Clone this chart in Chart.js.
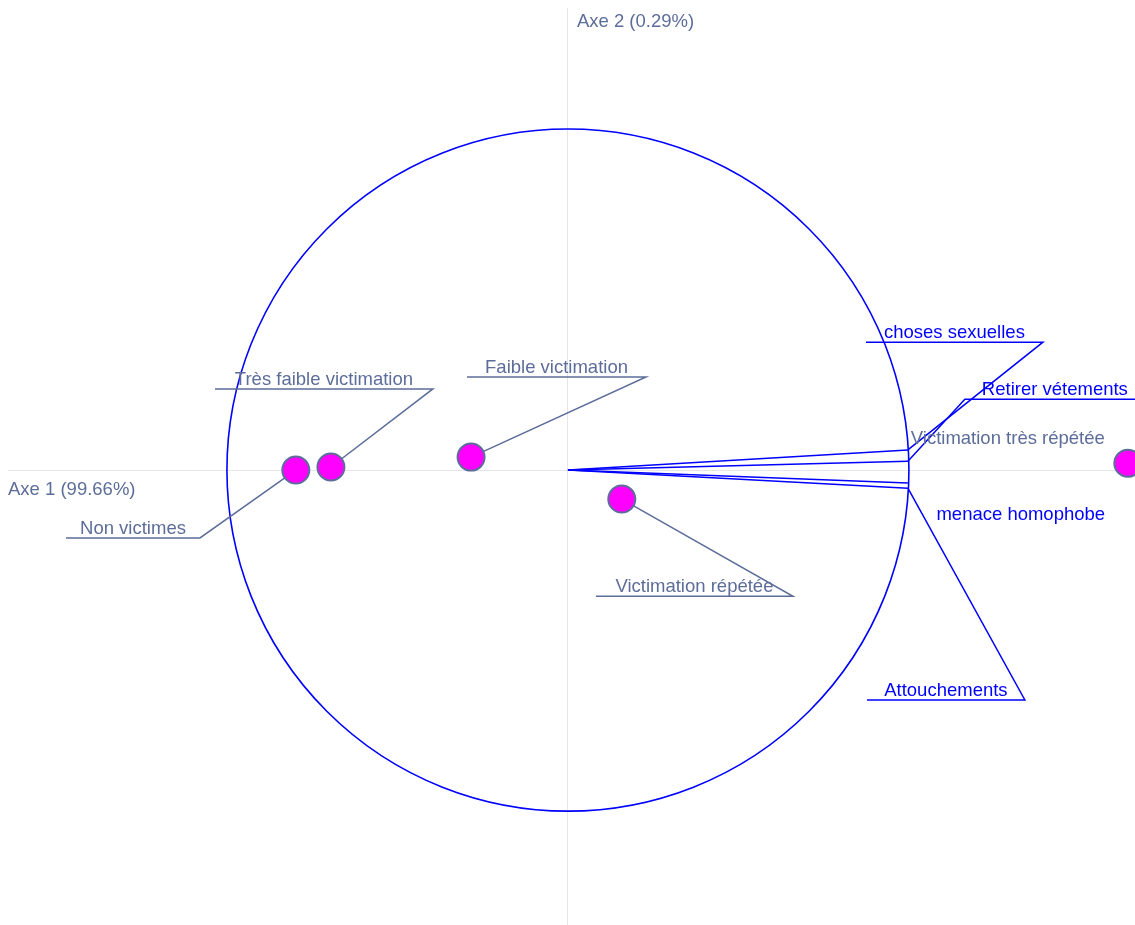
<!DOCTYPE html>
<html>
<head>
<meta charset="utf-8">
<script src="https://cdn.jsdelivr.net/npm/chart.js@4.4.1/dist/chart.umd.min.js"></script>
<style>
  html, body { margin: 0; padding: 0; background: #fff; }
  #chartContainer { width: 1135px; height: 925px; }
</style>
</head>
<body>
<div id="chartContainer"><canvas id="ca-chart" width="1135" height="925"></canvas></div>
<script>
// individuals (rows) - coordinates on axes 1 and 2
var rowNames = ['Non victimes', 'Très faible victimation', 'Faible victimation', 'Victimation répétée', 'Victimation très répétée'];
var rowX = [-0.798, -0.695, -0.284, 0.158, 1.642];
var rowY = [0.000, 0.009, 0.038, -0.085, 0.020];

// variables (columns) - arrow tips
var colNames = ['choses sexuelles', 'Retirer vétements', 'menace homophobe', 'Attouchements'];
var colX = [0.997, 0.997, 0.997, 0.997];
var colY = [0.059, 0.026, -0.038, -0.053];

// label placement (data units): leader end, underline other end, text position when no leader
var rowLabelEnd = [[-1.079, -0.199], [-0.396, 0.238], [0.229, 0.273], [0.660, -0.370], null];
var rowUnderlineTo = [-1.472, -1.035, -0.296, 0.082, null];
var rowTextAt = [null, null, null, null, [1.290, 0.091]];

var colLabelEnd = [[1.393, 0.375], [1.164, 0.208], null, [1.340, -0.674]];
var colUnderlineTo = [0.874, 1.692, null, 0.877];
var colTextAt = [null, null, [1.328, -0.132], null];

var axisTitleX = 'Axe 1 (99.66%)';
var axisTitleY = 'Axe 2 (0.29%)';
var circleRadius = 1;

var grey = '#5d6d9a';
var blue = '#0000ff';
var labelFont = '18.5px "Liberation Sans", Arial, sans-serif';

var datasets = [];

// leader lines for rows
rowNames.forEach(function(name, i) {
    if (!rowLabelEnd[i]) return;
    datasets.push({
        data: [{x: rowX[i], y: rowY[i]}, {x: rowLabelEnd[i][0], y: rowLabelEnd[i][1]}, {x: rowUnderlineTo[i], y: rowLabelEnd[i][1]}],
        showLine: true, pointRadius: 0, borderColor: grey, borderWidth: 1.5, clip: false, order: 3
    });
});

// arrows for columns
colNames.forEach(function(name, i) {
    datasets.push({
        data: [{x: 0, y: 0}, {x: colX[i], y: colY[i]}],
        showLine: true, pointRadius: 0, borderColor: blue, borderWidth: 1.5, clip: false, order: 2
    });
    if (colLabelEnd[i]) {
        datasets.push({
            data: [{x: colX[i], y: colY[i]}, {x: colLabelEnd[i][0], y: colLabelEnd[i][1]}, {x: colUnderlineTo[i], y: colLabelEnd[i][1]}],
            showLine: true, pointRadius: 0, borderColor: blue, borderWidth: 1.5, clip: false, order: 2
        });
    }
});

// row points on top
datasets.push({
    data: rowX.map(function(x, i) { return {x: x, y: rowY[i]}; }),
    pointRadius: 13.5, pointBackgroundColor: '#ff00ff', pointBorderColor: grey, pointBorderWidth: 2,
    showLine: false, clip: false, order: 0
});

// circle + texts
var decorPlugin = {
    id: 'decor',
    beforeDatasetsDraw: function(chart) {
        var c = chart.ctx, xs = chart.scales.x, ys = chart.scales.y;
        var cx = xs.getPixelForValue(0), cy = ys.getPixelForValue(0);
        var rx = xs.getPixelForValue(circleRadius) - cx;
        var ry = cy - ys.getPixelForValue(circleRadius);
        c.save();
        c.strokeStyle = blue;
        c.lineWidth = 1.6;
        c.beginPath();
        c.ellipse(cx, cy, rx, ry, 0, 0, Math.PI * 2);
        c.stroke();
        c.restore();
    },
    afterDatasetsDraw: function(chart) {
        var c = chart.ctx, xs = chart.scales.x, ys = chart.scales.y;
        c.save();
        c.font = labelFont;
        c.textAlign = 'center';
        c.textBaseline = 'alphabetic';

        function put(text, color, end, underTo, at) {
            c.fillStyle = color;
            if (end) {
                var x1 = xs.getPixelForValue(end[0]);
                var x2 = xs.getPixelForValue(underTo);
                var y = ys.getPixelForValue(end[1]);
                c.fillText(text, (x1 + x2) / 2, y - 4);
            } else if (at) {
                c.textBaseline = 'middle';
                c.fillText(text, xs.getPixelForValue(at[0]), ys.getPixelForValue(at[1]));
                c.textBaseline = 'alphabetic';
            }
        }
        rowNames.forEach(function(n, i) { put(n, grey, rowLabelEnd[i], rowUnderlineTo[i], rowTextAt[i]); });
        colNames.forEach(function(n, i) { put(n, blue, colLabelEnd[i], colUnderlineTo[i], colTextAt[i]); });

        // axis titles
        c.fillStyle = grey;
        c.textAlign = 'left';
        c.textBaseline = 'middle';
        c.fillText(axisTitleX, chart.chartArea.left, ys.getPixelForValue(0) + 20);
        c.fillText(axisTitleY, xs.getPixelForValue(0) + 9, chart.chartArea.top + 14);
        c.restore();
    }
};

function zeroGrid(ctx) {
    return ctx.tick && ctx.tick.value === 0 ? '#e6e6ea' : 'rgba(0,0,0,0)';
}

var chart = new Chart(document.getElementById('ca-chart').getContext('2d'), {
    type: 'scatter',
    data: { datasets: datasets },
    options: {
        responsive: false,
        animation: false,
        maintainAspectRatio: false,
        layout: { autoPadding: false, padding: { left: 8, top: 8, right: 0, bottom: 0 } },
        plugins: { legend: { display: false }, tooltip: { enabled: false } },
        scales: {
            x: {
                type: 'linear', min: -1.642, max: 1.663,
                ticks: { display: false, stepSize: 0.5 },
                grid: { color: zeroGrid, lineWidth: 1, drawTicks: false },
                border: { display: false }
            },
            y: {
                type: 'linear', min: -1.334, max: 1.355,
                ticks: { display: false, stepSize: 0.5 },
                grid: { color: zeroGrid, lineWidth: 1, drawTicks: false },
                border: { display: false }
            }
        }
    },
    plugins: [decorPlugin]
});
</script>
</body>
</html>
